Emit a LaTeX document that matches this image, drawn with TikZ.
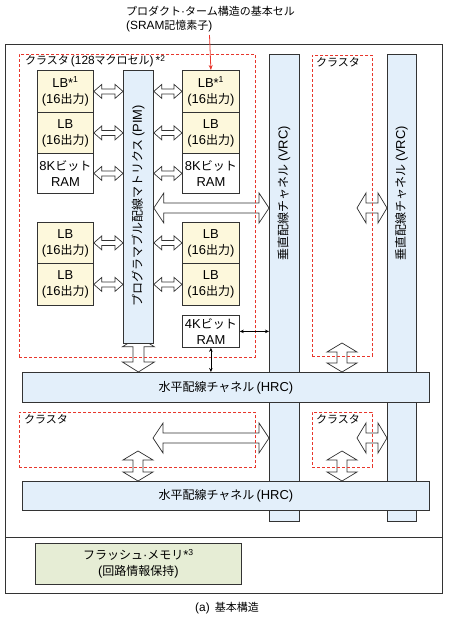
\documentclass[tikz,border=0pt]{standalone}
\usepackage{fontspec}
\setmainfont{Noto Sans CJK JP}
\newfontfamily\lat{Liberation Sans}[Scale=1.08]
\newcommand\LL[1]{{\lat#1}}
\usetikzlibrary{calc,arrows.meta}
\pgfdeclarelayer{arrlayer}
\pgfdeclarelayer{cllayer}
\pgfsetlayers{arrlayer,cllayer,main}
\definecolor{lbfill}{HTML}{FDF8DC}
\definecolor{chfill}{HTML}{E3EFFA}
\definecolor{flfill}{HTML}{E6EDD5}
\definecolor{clred}{HTML}{E8362C}
\definecolor{edge}{HTML}{333333}
\newcommand\hba[5]{%
  \path[blk] let \p1=(#1), \p2=(#2) in
   (\x1,\y1) -- (\x1+#5pt,\y1+#3pt) -- (\x1+#5pt,\y1+#4pt) -- (\x2-#5pt,\y1+#4pt)
   -- (\x2-#5pt,\y1+#3pt) -- (\x2,\y1) -- (\x2-#5pt,\y1-#3pt) -- (\x2-#5pt,\y1-#4pt)
   -- (\x1+#5pt,\y1-#4pt) -- (\x1+#5pt,\y1-#3pt) -- cycle;}
\newcommand\vba[5]{%
  \path[blk] let \p1=(#1), \p2=(#2) in
   (\x1,\y1) -- (\x1+#3pt,\y1-#5pt) -- (\x1+#4pt,\y1-#5pt) -- (\x1+#4pt,\y2+#5pt)
   -- (\x1+#3pt,\y2+#5pt) -- (\x1,\y2) -- (\x1-#3pt,\y2+#5pt) -- (\x1-#4pt,\y2+#5pt)
   -- (\x1-#4pt,\y1-#5pt) -- (\x1-#3pt,\y1-#5pt) -- cycle;}
\begin{document}
\begin{tikzpicture}[x=1pt,y=-1pt,
  box/.style={draw=edge, line width=0.8pt, inner sep=0pt, anchor=north west, align=center,
     font=\fontsize{12}{16}\selectfont},
  lb/.style={box, fill=lbfill},
  ram/.style={box, fill=white},
  chan/.style={box, fill=chfill},
  cluster/.style={draw=clred, line width=0.8pt, dash pattern=on 3pt off 2pt, inner sep=0pt, anchor=north west},
  clabel/.style={anchor=north west, inner sep=0pt, font=\fontsize{11}{12}\selectfont},
  blk/.style={draw=edge, line width=0.7pt, fill=white, line join=miter},
  thinarr/.style={draw=black, line width=0.8pt, {Stealth[length=4pt,width=3.5pt]}-{Stealth[length=4pt,width=3.5pt]}},
  txt/.style={inner sep=0pt, font=\fontsize{12}{14}\selectfont},
  small/.style={inner sep=0pt, font=\fontsize{11}{13}\selectfont}
]
\useasboundingbox (0,0) rectangle (450,621);
\begin{pgfonlayer}{arrlayer}
\fill[white] (0,0) rectangle (450,621);
\end{pgfonlayer}

% title
\node[small, anchor=west] (t1) at (126,11) {プロダクト\LL{·}ターム構造の基本セル};
\node[small, anchor=west] (t2) at (126,26) {\LL{(SRAM}記憶素子\LL{)}};

% outer frame
\draw[edge, line width=0.9pt] (5,44) rectangle (442,593);
\draw[edge, line width=0.9pt] (5,537) -- (442,537);

% clusters
\begin{pgfonlayer}{cllayer}
\node[cluster, minimum width=236pt, minimum height=303pt] (C1) at (19,54) {};
\node[cluster, minimum width=60pt, minimum height=301pt] (C2) at (312,55) {};
\node[cluster, minimum width=236pt, minimum height=55pt] (C3) at (19,412) {};
\node[cluster, minimum width=60pt, minimum height=55pt] (C4) at (312,412) {};
\end{pgfonlayer}
\node[clabel] (C1l) at (25,55) {クラスタ\LL{\,(128}マクロセル\LL{)\,*\textsuperscript{2}}};
\node[clabel] (C2l) at (316,57) {クラスタ};
\node[clabel] (C3l) at (24,414) {クラスタ};
\node[clabel] (C4l) at (316,414) {クラスタ};

% left LB column
\node[lb, minimum width=56pt, minimum height=42pt] (L1) at (37,70) {\LL{LB*\textsuperscript{1}}\\\LL{(16}出力\LL{)}};
\node[lb, minimum width=56pt, minimum height=41pt] (L2) at (37,112) {\LL{LB}\\\LL{(16}出力\LL{)}};
\node[ram, minimum width=56pt, minimum height=40pt] (L3) at (37,153) {\LL{8K}ビット\\\LL{RAM}};
\node[lb, minimum width=56pt, minimum height=41pt] (L4) at (37,222) {\LL{LB}\\\LL{(16}出力\LL{)}};
\node[lb, minimum width=56pt, minimum height=42pt] (L5) at (37,263) {\LL{LB}\\\LL{(16}出力\LL{)}};
% right LB column
\node[lb, minimum width=57pt, minimum height=42pt] (R1) at (182,70) {\LL{LB*\textsuperscript{1}}\\\LL{(16}出力\LL{)}};
\node[lb, minimum width=57pt, minimum height=41pt] (R2) at (182,112) {\LL{LB}\\\LL{(16}出力\LL{)}};
\node[ram, minimum width=57pt, minimum height=40pt] (R3) at (182,153) {\LL{8K}ビット\\\LL{RAM}};
\node[lb, minimum width=57pt, minimum height=41pt] (R4) at (182,222) {\LL{LB}\\\LL{(16}出力\LL{)}};
\node[lb, minimum width=57pt, minimum height=42pt] (R5) at (182,263) {\LL{LB}\\\LL{(16}出力\LL{)}};
\node[ram, minimum width=57pt, minimum height=32pt] (R6) at (182,315) {\LL{4K}ビット\\\LL{RAM}};

% PIM
\node[chan, minimum width=30pt, minimum height=273pt] (PIM) at (123,70) {};
\node[txt, rotate=90] (PIMt) at (138,206) {プログラマブル配線マトリクス\LL{\,(PIM)}};

% VRC
\node[chan, minimum width=30pt, minimum height=467pt] (V1) at (269,54) {};
\node[chan, minimum width=29pt, minimum height=467pt] (V2) at (387,54) {};
\node[txt, rotate=90] (V1t) at (284,193) {垂直配線チャネル\LL{\,(VRC)}};
\node[txt, rotate=90] (V2t) at (401.5,193) {垂直配線チャネル\LL{\,(VRC)}};

% HRC
\node[chan, minimum width=407pt, minimum height=30pt] (H1) at (22,372) {水平配線チャネル\LL{\,(HRC)}};
\node[chan, minimum width=407pt, minimum height=29pt] (H2) at (22,481) {水平配線チャネル\LL{\,(HRC)}};

% flash
\node[box, fill=flfill, minimum width=206pt, minimum height=41pt] (FL) at (35,543) {フラッシュ\LL{·}メモリ\LL{*\textsuperscript{3}}\\\LL{(}回路情報保持\LL{)}};

% caption
\node[small] (cap) at (227,608) {\LL{(a)}\hspace{5pt}基本構造};

\begin{pgfonlayer}{arrlayer}
% small arrows LB <-> PIM
\foreach \nd in {L1,L2,L3,L4,L5}{\hba{\nd.east}{\nd.east -| PIM.west}{7}{2.5}{8}}
\foreach \nd in {R1,R2,R3,R4,R5}{\hba{\nd.west -| PIM.east}{\nd.west}{7}{2.5}{8}}

% big arrows
\coordinate (by) at (0,208);
\hba{PIM.east |- by}{V1.west |- by}{15}{5}{10}
\coordinate (a2) at (357,208);
\hba{a2}{V2.west |- a2}{15}{5}{9}
\coordinate (a3) at (153,438);
\hba{a3}{V1.west |- a3}{15}{5}{10}
\coordinate (a4) at (357,438);
\hba{a4}{V2.west |- a4}{15}{5}{9}

% vertical arrows
\coordinate (v1) at ($(PIM.south)+(0,-7)$);
\vba{v1}{v1 |- H1.north}{16}{5.5}{10}
\coordinate (v2) at (342,343);
\vba{v2}{v2 |- H1.north}{15}{5}{9}
\coordinate (v3) at (138,451);
\vba{v3}{v3 |- H2.north}{15}{5}{9}
\coordinate (v4) at (342,451);
\vba{v4}{v4 |- H2.north}{15}{5}{9}
\end{pgfonlayer}

% thin arrows
\draw[thinarr] (R6.east) -- (R6.east -| V1.west);
\draw[thinarr] (R6.south) -- (R6.south |- H1.north);

% red pointer
\coordinate (rp) at (209.5,35);
\draw[clred, line width=0.8pt, -{Stealth[length=5pt,width=4pt]}] (rp) -- (R1.north);
\end{tikzpicture}
\end{document}
